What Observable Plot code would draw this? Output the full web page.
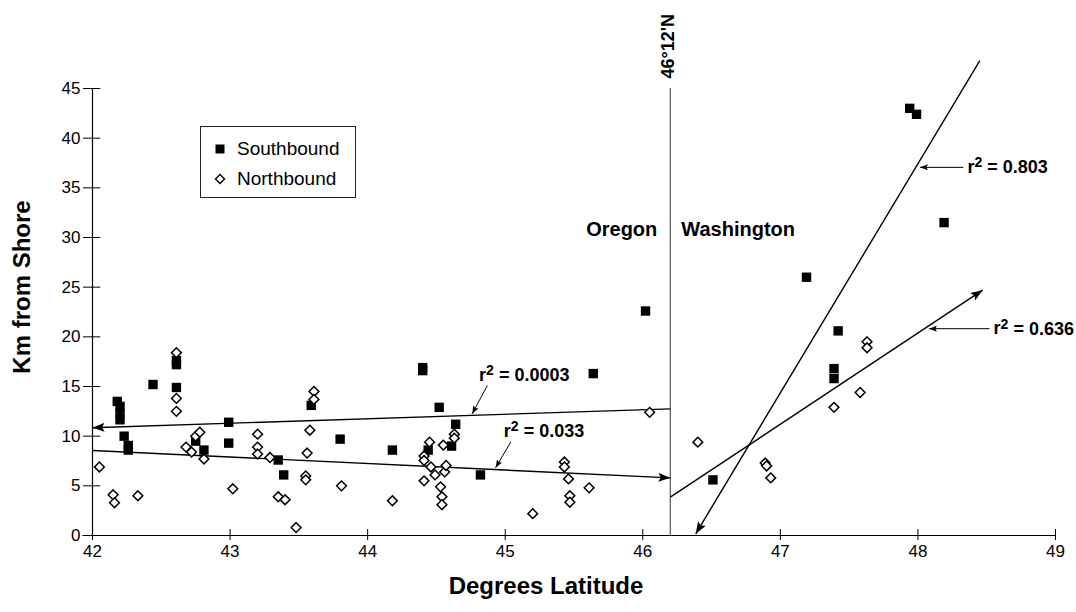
<!DOCTYPE html>
<html>
<head>
<meta charset="utf-8">
<script src="https://cdn.jsdelivr.net/npm/d3@7"></script>
<script src="https://cdn.jsdelivr.net/npm/@observablehq/plot@0.6"></script>
<style>
  body { margin: 0; background: #fff; font-family: "Liberation Sans", Arial, Helvetica, sans-serif; }
  #wrap { position: relative; width: 1076px; height: 612px; }
  #legend { position: absolute; left: 200px; top: 126px; width: 156px; height: 72px;
            border: 1px solid #222; background: #fff; box-sizing: border-box; font-size: 19px; color: #000; }
  #legend .item { position: absolute; left: 0; height: 24px; display: flex; align-items: center; }
  #legend svg { margin-left: 13px; margin-right: 11px; }
</style>
</head>
<body>
<div id="wrap"></div>
<script>
// ---- Data ----
const seriesNames = ["Southbound", "Northbound"];

const southLat = [42.18,42.20,42.20,42.20,42.23,42.26,42.26,42.44,42.61,42.61,42.61,42.75,42.81,42.99,42.99,43.35,43.39,43.59,43.80,44.18,44.40,44.40,44.44,44.52,44.61,44.64,44.82,45.64,46.02,46.51,47.19,47.39,47.39,47.42,47.94,47.99,48.19];
const southKm  = [13.5,13.0,12.3,11.65,10.0,9.06,8.6,15.2,17.6,17.2,14.9,9.5,8.6,11.4,9.3,7.6,6.1,13.1,9.7,8.6,16.9,16.6,8.6,12.9,9.0,11.2,6.1,16.3,22.6,5.6,26.0,16.8,15.8,20.6,43.0,42.4,31.5];

const northLat = [42.05,42.15,42.16,42.33,42.61,42.61,42.61,42.68,42.72,42.75,42.78,42.81,43.02,43.20,43.20,43.20,43.29,43.35,43.40,43.48,43.55,43.55,43.56,43.58,43.61,43.61,43.81,44.18,44.41,44.41,44.41,44.45,44.46,44.49,44.53,44.54,44.54,44.55,44.56,44.57,44.63,44.63,45.20,45.43,45.43,45.46,45.47,45.47,45.61,46.05,46.40,46.89,46.90,46.93,47.39,47.58,47.63,47.63];
const northKm  = [6.9,4.1,3.3,4.0,18.4,13.8,12.5,8.9,8.4,10.0,10.4,7.7,4.7,10.2,8.9,8.2,7.85,3.9,3.6,0.8,6.0,5.6,8.3,10.6,14.5,13.7,5.0,3.5,8.0,7.55,5.5,9.4,6.9,6.1,4.9,3.9,3.1,9.1,6.4,7.05,10.2,9.8,2.2,7.4,6.9,5.7,4.0,3.35,4.8,12.4,9.4,7.3,7.0,5.8,12.9,14.4,19.5,18.9];

// regression lines: start and end (arrow at the end)
const fitNames = ["OR south", "OR north", "WA south", "WA north"];
const fitLat1 = [46.2, 42.0, 48.45, 46.2];
const fitKm1  = [12.75, 8.56, 47.8, 3.86];
const fitLat2 = [42.0, 46.2, 46.385, 48.47];
const fitKm2  = [10.85, 5.8, 0.17, 24.7];

// r² annotations
const r2Values = ["0.0003", "0.033", "0.803", "0.636"];
const r2LabelLat = [44.81, 44.99, 48.36, 48.55];
const r2LabelKm  = [16.1, 10.47, 37.06, 20.82];
const r2ArrowLat1 = [44.87, 45.04, 48.33, 48.52];
const r2ArrowKm1  = [15.1, 9.4, 37.06, 20.82];
const r2ArrowLat2 = [44.76, 44.93, 48.015, 48.08];
const r2ArrowKm2  = [12.25, 6.82, 37.06, 20.82];

const boundaryLat = 46.2;            // 46°12'N
const boundaryLabel = "46°12'N";
const stateNames = ["Oregon", "Washington"];

const xTicks = [42, 43, 44, 45, 46, 47, 48, 49];
const yTicks = [0, 5, 10, 15, 20, 25, 30, 35, 40, 45];
const xTitle = "Degrees Latitude";
const yTitle = "Km from Shore";

// ---- Build tables ----
const south = southLat.map((v, i) => ({lat: v, km: southKm[i]}));
const north = northLat.map((v, i) => ({lat: v, km: northKm[i]}));
const fits = fitNames.map((n, i) => ({n, x1: fitLat1[i], y1: fitKm1[i], x2: fitLat2[i], y2: fitKm2[i]}));
const r2 = r2Values.map((v, i) => ({t: "r² = " + v, x: r2LabelLat[i], y: r2LabelKm[i],
  ax1: r2ArrowLat1[i], ay1: r2ArrowKm1[i], ax2: r2ArrowLat2[i], ay2: r2ArrowKm2[i]}));

function makeArrow(len, wid) {
  return function (color, context) {
    const doc = (context && context.document) || document;
    const ns = "http://www.w3.org/2000/svg";
    const m = doc.createElementNS(ns, "marker");
    m.setAttribute("viewBox", `${-len} ${-wid / 2} ${len} ${wid}`);
    m.setAttribute("markerWidth", len);
    m.setAttribute("markerHeight", wid);
    m.setAttribute("markerUnits", "userSpaceOnUse");
    m.setAttribute("orient", "auto");
    m.setAttribute("refX", 0);
    m.setAttribute("refY", 0);
    const p = doc.createElementNS(ns, "path");
    p.setAttribute("d", `M0,0L${-len},${-wid / 2}L${-len * 0.8},0L${-len},${wid / 2}Z`);
    p.setAttribute("fill", color === "currentColor" ? "#000" : color);
    p.setAttribute("stroke", "none");
    m.appendChild(p);
    return m;
  };
}

function build(bigArrow, smallArrow) {
  const font = "Liberation Sans, Arial, Helvetica, sans-serif";
  return Plot.plot({
    width: 1076,
    height: 612,
    marginLeft: 92,
    marginRight: 21,
    marginTop: 88,
    marginBottom: 77,
    style: {fontFamily: font, fontSize: "17px", background: "#fff", color: "#000"},
    x: {domain: [42, 49], ticks: xTicks.length - 1, tickFormat: "d", tickSize: 5, tickPadding: 4, label: null},
    y: {domain: [0, 45], ticks: yTicks.length - 1, tickSize: 9, tickPadding: 3, label: null},
    marks: [
      Plot.ruleY([0], {x1: 41.93, x2: 49, stroke: "#000", strokeWidth: 1.2}),
      Plot.ruleX([42], {y1: 0, y2: 45, stroke: "#000", strokeWidth: 1.2}),
      Plot.ruleX(xTicks, {x: d => d, y1: 0, y2: 0.6, stroke: "#000"}),
      Plot.ruleY(yTicks, {y: d => d, x1: 42, x2: 42.06, stroke: "#000"}),
      Plot.ruleX([boundaryLat], {y1: 0, y2: 45, stroke: "#555", strokeWidth: 1.2}),
      Plot.text([boundaryLabel], {x: boundaryLat, y: 45, text: d => d, rotate: -90, textAnchor: "start",
        dy: -10, dx: -2, fontWeight: "bold", fontSize: 18}),
      Plot.text([stateNames[0]], {x: boundaryLat, y: 30.8, text: d => d, textAnchor: "end", dx: -13,
        fontWeight: "bold", fontSize: 20}),
      Plot.text([stateNames[1]], {x: boundaryLat, y: 30.8, text: d => d, textAnchor: "start", dx: 11,
        fontWeight: "bold", fontSize: 20}),
      Plot.link(fits, {x1: "x1", y1: "y1", x2: "x2", y2: "y2", stroke: "#000", strokeWidth: 1.4, markerEnd: bigArrow}),
      Plot.link(r2, {x1: "ax1", y1: "ay1", x2: "ax2", y2: "ay2", stroke: "#000", strokeWidth: 1, markerEnd: smallArrow}),
      Plot.text(r2, {x: "x", y: "y", text: "t", textAnchor: "start", fontWeight: "bold", fontSize: 18}),
      Plot.dot(south, {x: "lat", y: "km", symbol: "square", fill: "#000", stroke: "none", r: 5.3}),
      Plot.dot(north, {x: "lat", y: "km", symbol: "diamond2", fill: "#fff", stroke: "#000", strokeWidth: 1.5, r: 4.4}),
      Plot.text([xTitle], {frameAnchor: "bottom", text: d => d, textAnchor: "middle", dy: 58, dx: -28, fontWeight: "bold", fontSize: 24}),
      Plot.text([yTitle], {frameAnchor: "left", text: d => d, textAnchor: "middle", rotate: -90, dx: -70, dy: -25, fontWeight: "bold", fontSize: 24})
    ]
  });
}

let chart;
try {
  chart = build(makeArrow(12, 9), makeArrow(8, 6));
} catch (e) {
  chart = build("arrow", "arrow");
}
const wrap = document.getElementById("wrap");
wrap.appendChild(chart);

// make the "2" of r² a proper, larger superscript
const ns = "http://www.w3.org/2000/svg";
chart.querySelectorAll("text").forEach(t => {
  const s = t.textContent;
  if (t.childElementCount === 0 && s.startsWith("r² = ")) {
    const rest = s.slice(2);
    t.textContent = "r";
    const sup = document.createElementNS(ns, "tspan");
    sup.setAttribute("dy", "-0.42em");
    sup.setAttribute("font-size", "0.78em");
    sup.textContent = "2";
    const tail = document.createElementNS(ns, "tspan");
    tail.setAttribute("dy", "0.33em");
    tail.textContent = rest;
    t.appendChild(sup);
    t.appendChild(tail);
  }
});

// legend
const legend = document.createElement("div");
legend.id = "legend";
const symbols = [
  '<svg width="12" height="12"><rect x="1.5" y="1.5" width="9" height="9" fill="#000"/></svg>',
  '<svg width="12" height="12"><path d="M6,1.5L10.5,6L6,10.5L1.5,6Z" fill="#fff" stroke="#000" stroke-width="1.4"/></svg>'
];
seriesNames.forEach((name, i) => {
  const item = document.createElement("div");
  item.className = "item";
  item.style.top = (10 + i * 30) + "px";
  item.innerHTML = symbols[i] + "<span>" + name + "</span>";
  legend.appendChild(item);
});
wrap.appendChild(legend);
</script>
</body>
</html>
